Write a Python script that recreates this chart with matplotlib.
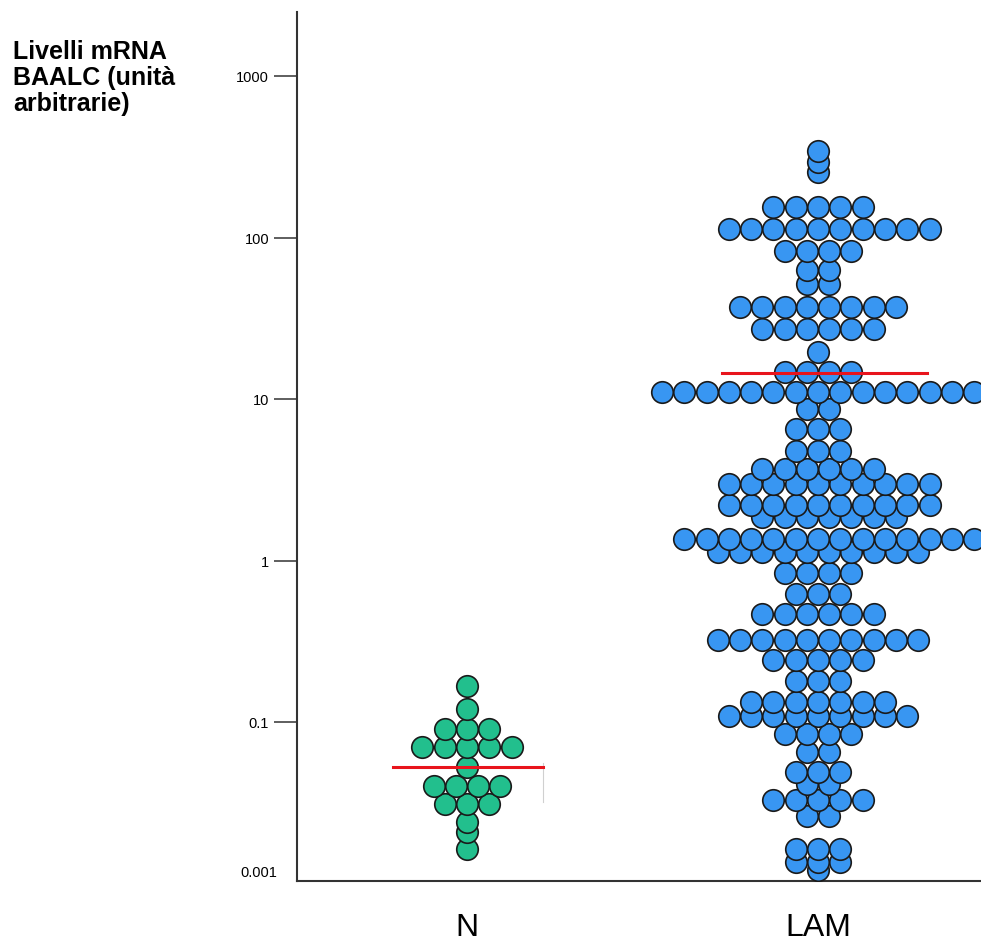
import numpy as np
import matplotlib
matplotlib.use('Agg')
import matplotlib.pyplot as plt

plt.rcParams['font.family'] = ['Liberation Sans', 'DejaVu Sans']

groups = ['N', 'LAM']

# value of each row of dots and how many dots sit on it
n_levels = [0.167, 0.120, 0.0905, 0.070, 0.0526, 0.0402, 0.0311, 0.0240, 0.0208, 0.0164]
n_counts = [1, 1, 3, 5, 1, 4, 3, 1, 1, 1]
n_median = 0.0527

lam_levels = [343, 293, 255, 154.5, 113, 82.5, 63, 51.5, 37.1, 27.1, 19.5, 14.7, 11.05,
              8.67, 6.52, 4.76, 3.69, 2.98, 2.21, 1.86, 1.36, 1.13, 0.837, 0.620, 0.466,
              0.322, 0.242, 0.179, 0.133, 0.109, 0.0843, 0.0652, 0.0490, 0.0413, 0.0329,
              0.0262, 0.0164, 0.0136, 0.0121]
lam_counts = [1, 1, 1, 5, 10, 4, 2, 2, 8, 6, 1, 4, 15,
              2, 3, 3, 6, 10, 10, 7, 14, 10, 4, 3, 6,
              10, 5, 3, 7, 9, 4, 2, 3, 2, 5,
              2, 3, 3, 1]
lam_median = 14.5

ytick_vals = [0.1, 1, 10, 100, 1000]
ytick_labels = ['0.1', '1', '10', '100', '1000']

# layout
dx = 22.3 / 351.0
lam_half_shift = {4, 17, 18, 19, 20}


def row_points(center, levels, counts, shifted=()):
    xs, ys = [], []
    for i, (v, c) in enumerate(zip(levels, counts)):
        off = 0.5 if i in shifted else 0.0
        k = np.arange(c) - (c - 1) / 2.0 + off
        xs.extend(center + k * dx)
        ys.extend([v] * c)
    xs, ys = np.array(xs), np.array(ys)
    order = np.argsort(ys)
    return xs[order], ys[order]


fig = plt.figure(figsize=(9.81, 9.45), dpi=100)
ax = fig.add_axes([297 / 981, 63 / 945, 684 / 981, 869 / 945])

nx, ny = row_points(1, n_levels, n_counts)
lx, ly = row_points(2, lam_levels, lam_counts, lam_half_shift)

ax.scatter(nx, ny, s=240, c='#22bf8d', edgecolors='#1a1a1a', linewidths=1.2, zorder=3)
ax.scatter(lx, ly, s=240, c='#3896f2', edgecolors='#1a1a1a', linewidths=1.2, zorder=3)

ax.plot([1 - 0.211, 1 + 0.2165], [n_median, n_median], color='#e8141c', lw=2.2, zorder=4)
ax.plot([2 - 0.2735, 2 + 0.3105], [lam_median, lam_median], color='#e8141c', lw=2.2, zorder=4)
ax.plot([1.2165, 1.2165], [0.0320, 0.0555], color='#d0d0d0', lw=0.8, zorder=2)

ax.set_yscale('log')
ax.set_ylim(10 ** ((561.5 - 882) / 161.5), 10 ** ((561.5 - 13) / 161.5))
ax.set_xlim(1 - 170 / 351, 2 + 163 / 351)

ax.set_yticks(ytick_vals)
ax.set_yticklabels(ytick_labels)
ax.yaxis.set_minor_locator(matplotlib.ticker.NullLocator())
ax.tick_params(axis='y', length=16.5, width=1.1, color='#333333', pad=3.5, labelsize=10.5)

ax.set_xticks([1, 2])
ax.set_xticklabels(groups)
ax.tick_params(axis='x', length=0, pad=22, labelsize=23)

for side in ['top', 'right']:
    ax.spines[side].set_visible(False)
for side in ['left', 'bottom']:
    ax.spines[side].set_color('#333333')
    ax.spines[side].set_linewidth(1.5)

ax.annotate('0.001', xy=(0, 0), xycoords='axes fraction', xytext=(-20, 9),
            textcoords='offset pixels', ha='right', va='center', fontsize=10.5)

fig.text(13 / 981, 1 - 40 / 945, 'Livelli mRNA\nBAALC (unità\narbitrarie)',
         ha='left', va='top', fontsize=18, fontweight='bold', linespacing=1.1)

fig.savefig('out.png', dpi=100)
